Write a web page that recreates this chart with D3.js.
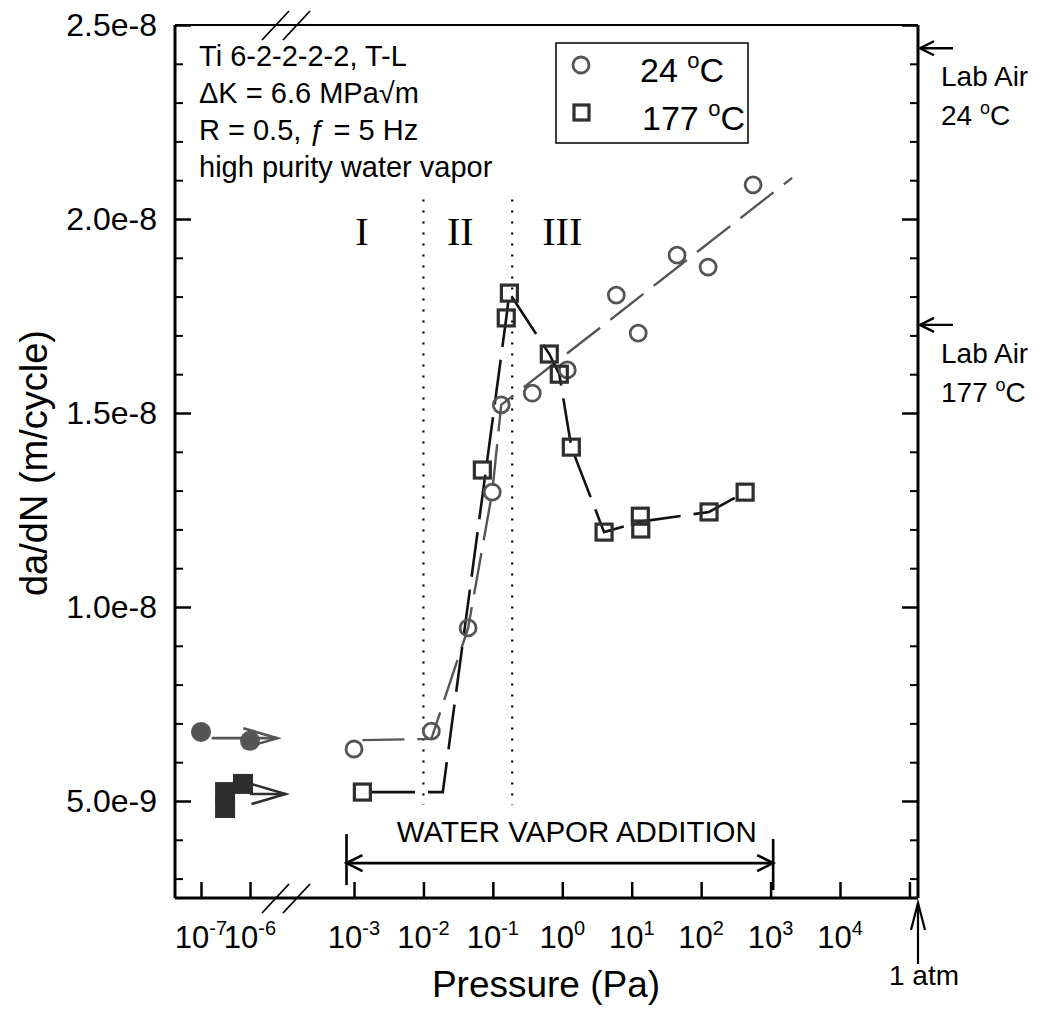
<!DOCTYPE html>
<html><head><meta charset="utf-8">
<script src="https://cdn.jsdelivr.net/npm/d3@7"></script>
<style>
body{margin:0;background:#fff}
svg{display:block}
text{fill:#000}
</style>
</head><body>
<svg id="c" width="1042" height="1023" font-family="Liberation Sans, Arial, Helvetica, sans-serif"></svg>
<script>
// ---------------- data ----------------
// 24 °C (open circles)
const circlePressure = [1.0e-3, 0.013, 0.044, 0.098, 0.132, 0.37, 1.18, 6.0, 12.4, 45, 126, 560];
const circleRate     = [6.34e-9, 6.8e-9, 9.46e-9, 1.296e-8, 1.521e-8, 1.551e-8, 1.611e-8, 1.804e-8, 1.706e-8, 1.907e-8, 1.876e-8, 2.088e-8];
// 177 °C (open squares)
const squarePressure = [1.32e-3, 0.0706, 0.156, 0.173, 0.65, 0.906, 1.35, 4.0, 13.3, 13.5, 130, 430];
const squareRate     = [5.23e-9, 1.353e-8, 1.745e-8, 1.809e-8, 1.652e-8, 1.60e-8, 1.412e-8, 1.193e-8, 1.234e-8, 1.201e-8, 1.245e-8, 1.296e-8];
// trend lines
const circleTrendPressure = [1.32e-3, 0.013, 0.044, 0.098, 0.132, 2040];
const circleTrendRate     = [6.57e-9, 6.6e-9, 9.46e-9, 1.296e-8, 1.521e-8, 2.106e-8];
const squareTrendPressure = [1.7e-3, 0.019, 0.156, 0.173, 0.65, 0.906, 1.35, 4.0, 13.3, 130, 430];
const squareTrendRate     = [5.23e-9, 5.23e-9, 1.745e-8, 1.809e-8, 1.652e-8, 1.60e-8, 1.412e-8, 1.193e-8, 1.22e-8, 1.245e-8, 1.296e-8];
// vacuum reference points (broken-axis segment)
const vacCirclePressure = [1e-7, 1e-6];
const vacCircleRate     = [6.78e-9, 6.55e-9];
const vacCircleArrow    = [1.25e-7, 3.6e-6, 6.62e-9];
const vacSquarePressure = [3.1e-7, 3.1e-7, 7.2e-7];
const vacSquareRate     = [5.23e-9, 4.82e-9, 5.44e-9];
const vacSquareArrow    = [1.0e-6, 5.3e-6, 5.18e-9];
// axes
const xTickExponents   = [-3, -2, -1, 0, 1, 2, 3, 4, 5];
const xLabelExponents  = [-3, -2, -1, 0, 1, 2, 3, 4];
const xBreakExponents  = [-7, -6];
const yMajorTicks  = [5e-9, 1e-8, 1.5e-8, 2e-8, 2.5e-8];
const yTickLabels  = ["5.0e-9", "1.0e-8", "1.5e-8", "2.0e-8", "2.5e-8"];
const yMinorTicks  = [3e-9,4e-9,6e-9,7e-9,8e-9,9e-9,1.1e-8,1.2e-8,1.3e-8,1.4e-8,1.6e-8,1.7e-8,1.8e-8,1.9e-8,2.1e-8,2.2e-8,2.3e-8,2.4e-8];
// annotations
const regionBounds   = [0.01, 0.19];
const regionSpan     = [4.9e-9, 2.05e-8];
const regionLabels   = ["I", "II", "III"];
const regionLabelAt  = [1.3e-3, 0.034, 1.0];
const regionLabelRate = 1.933e-8;
const labAirRates  = [2.44e-8, 1.727e-8];
const labAirTemps  = ["24", "177"];
const waterVaporRange = [7.8e-4, 1.09e3];
const waterVaporRate  = 3.4e-9;
const infoLines = ["Ti 6-2-2-2-2, T-L", "\u0394K = 6.6 MPa\u221Am", "R = 0.5, \u0192 = 5 Hz", "high purity water vapor"];
const legendTemps = ["24", "177"];

// ---------------- scales ----------------
const plotLeft = 175, plotRight = 918, plotTop = 25, plotBottom = 898;
const x  = d3.scaleLog().domain([1e-3, 1e4]).range([354, 840]);
const xb = d3.scaleLog().domain([1e-7, 1e-6]).range([201, 250]);
const y  = d3.scaleLinear().domain([2.5e-9, 2.5e-8]).range([plotBottom, plotTop]);

const svg = d3.select("#c");
const circleColor = "#555", squareColor = "#2e2e2e";

// ---------------- frame ----------------
svg.append("line").attr("x1", plotLeft).attr("x2", plotRight).attr("y1", plotTop).attr("y2", plotTop).attr("stroke", "#000").attr("stroke-width", 2);
svg.append("line").attr("x1", plotLeft).attr("x2", plotRight).attr("y1", plotBottom).attr("y2", plotBottom).attr("stroke", "#000").attr("stroke-width", 3);
svg.append("line").attr("x1", plotLeft).attr("x2", plotLeft).attr("y1", plotTop).attr("y2", plotBottom).attr("stroke", "#000").attr("stroke-width", 3);
svg.append("line").attr("x1", plotRight).attr("x2", plotRight).attr("y1", plotTop).attr("y2", plotBottom).attr("stroke", "#000").attr("stroke-width", 3);

function styleAxis(g, w) {
  g.select(".domain").remove();
  g.selectAll("line").attr("stroke", "#000").attr("stroke-width", w);
}
// y ticks left (inward) and right (inward)
svg.append("g").attr("transform", `translate(${plotLeft},0)`)
  .call(d3.axisRight(y).tickValues(yMajorTicks).tickSize(16).tickFormat(""))
  .call(g => styleAxis(g, 2.5));
svg.append("g").attr("transform", `translate(${plotLeft},0)`)
  .call(d3.axisRight(y).tickValues(yMinorTicks).tickSize(8).tickFormat(""))
  .call(g => styleAxis(g, 2));
svg.append("g").attr("transform", `translate(${plotRight},0)`)
  .call(d3.axisLeft(y).tickValues(yMajorTicks).tickSize(16).tickFormat(""))
  .call(g => styleAxis(g, 2.5));
svg.append("g").attr("transform", `translate(${plotRight},0)`)
  .call(d3.axisLeft(y).tickValues(yMinorTicks).tickSize(8).tickFormat(""))
  .call(g => styleAxis(g, 2));
// y tick labels
const yLab = svg.append("g").attr("transform", `translate(${plotLeft},0)`)
  .call(d3.axisLeft(y).tickValues(yMajorTicks).tickSize(0).tickPadding(18).tickFormat((d, i) => yTickLabels[i]));
yLab.select(".domain").remove();
yLab.attr("font-size", null).attr("font-family", null);
yLab.selectAll("text").attr("font-size", 32).attr("fill", "#000");

// x ticks (bottom, inward)
svg.append("g").attr("transform", `translate(0,${plotBottom})`)
  .call(d3.axisTop(x).tickValues(xTickExponents.map(e => Math.pow(10, e))).tickSize(16).tickFormat(""))
  .call(g => styleAxis(g, 2.5));
svg.append("g").attr("transform", `translate(0,${plotBottom})`)
  .call(d3.axisTop(xb).tickValues(xBreakExponents.map(e => Math.pow(10, e))).tickSize(16).tickFormat(""))
  .call(g => styleAxis(g, 2.5));

// x tick labels "10^n"
function powLabel(px, e) {
  const t = svg.append("text").attr("x", px).attr("y", 948).attr("text-anchor", "middle").attr("font-size", 31);
  t.append("tspan").text("10");
  t.append("tspan").attr("dy", -13).attr("font-size", 20).text(String(e));
}
xLabelExponents.forEach(e => powLabel(x(Math.pow(10, e)), e));
xBreakExponents.forEach(e => powLabel(xb(Math.pow(10, e)), e));

// axis break marks
[plotTop, plotBottom].forEach(yy => {
  [0, 21].forEach(off => {
    svg.append("line").attr("x1", 262 + off).attr("y1", yy + 15).attr("x2", 289 + off).attr("y2", yy - 14)
      .attr("stroke", "#000").attr("stroke-width", 1.8);
  });
});

// axis titles
svg.append("text").attr("x", 546).attr("y", 997).attr("text-anchor", "middle").attr("font-size", 37).text("Pressure (Pa)");
svg.append("text").attr("transform", "translate(47,463) rotate(-90)").attr("text-anchor", "middle").attr("font-size", 38).text("da/dN (m/cycle)");

// ---------------- region dividers ----------------
regionBounds.forEach(p => {
  svg.append("line").attr("x1", x(p)).attr("x2", x(p)).attr("y1", y(regionSpan[1])).attr("y2", y(regionSpan[0]))
    .attr("stroke", "#000").attr("stroke-width", 2.2).attr("stroke-dasharray", "2,9");
});
regionLabels.forEach((l, i) => {
  svg.append("text").attr("x", x(regionLabelAt[i])).attr("y", y(regionLabelRate)).attr("text-anchor", "middle")
    .attr("font-family", "Liberation Serif, Times New Roman, serif").attr("font-size", 40).text(l);
});

// ---------------- trend lines ----------------
const line = d3.line().x(d => x(d[0])).y(d => y(d[1]));
svg.append("path").datum(circleTrendPressure.map((p, i) => [p, circleTrendRate[i]]))
  .attr("d", line).attr("fill", "none").attr("stroke", "#555").attr("stroke-width", 2.4).attr("stroke-dasharray", "42,13");
svg.append("path").datum(squareTrendPressure.map((p, i) => [p, squareTrendRate[i]]))
  .attr("d", line).attr("fill", "none").attr("stroke", "#111").attr("stroke-width", 2.6).attr("stroke-dasharray", "45,13");

// ---------------- markers ----------------
svg.append("g").selectAll("circle").data(circlePressure).join("circle")
  .attr("cx", d => x(d)).attr("cy", (d, i) => y(circleRate[i])).attr("r", 8)
  .attr("fill", "none").attr("stroke", circleColor).attr("stroke-width", 2.8);
svg.append("g").selectAll("rect").data(squarePressure).join("rect")
  .attr("x", d => x(d) - 8).attr("y", (d, i) => y(squareRate[i]) - 8).attr("width", 16).attr("height", 16)
  .attr("fill", "none").attr("stroke", squareColor).attr("stroke-width", 3.2);

// vacuum points
function openArrow(x1, x2, yy, color, w) {
  const g = svg.append("g").attr("stroke", color).attr("stroke-width", w).attr("fill", "none");
  g.append("line").attr("x1", x1).attr("x2", x2).attr("y1", yy).attr("y2", yy);
  g.append("path").attr("d", `M${x2 - 34},${yy - 10} L${x2},${yy} L${x2 - 34},${yy + 10}`);
}
openArrow(xb(vacCircleArrow[0]) + 6, xb(vacCircleArrow[1]), y(vacCircleArrow[2]), "#555", 2.6);
svg.append("g").selectAll("circle").data(vacCirclePressure).join("circle")
  .attr("cx", d => xb(d)).attr("cy", (d, i) => y(vacCircleRate[i])).attr("r", 10).attr("fill", "#555");
openArrow(xb(vacSquareArrow[0]), xb(vacSquareArrow[1]), y(vacSquareArrow[2]), "#2e2e2e", 2.6);
svg.append("g").selectAll("rect").data(vacSquarePressure).join("rect")
  .attr("x", d => xb(d) - 10).attr("y", (d, i) => y(vacSquareRate[i]) - 10).attr("width", 20).attr("height", 20)
  .attr("fill", "#2e2e2e");

// ---------------- water vapor addition ----------------
{
  const x1 = x(waterVaporRange[0]), x2 = x(waterVaporRange[1]), yy = y(waterVaporRate);
  const g = svg.append("g").attr("stroke", "#000").attr("stroke-width", 2.6).attr("fill", "none");
  g.append("line").attr("x1", x1).attr("x2", x2).attr("y1", yy).attr("y2", yy);
  g.append("line").attr("x1", x1).attr("x2", x1).attr("y1", yy - 29).attr("y2", yy + 22);
  g.append("line").attr("x1", x2).attr("x2", x2).attr("y1", yy - 24).attr("y2", yy + 27);
  g.append("path").attr("d", `M${x1 + 16},${yy - 8} L${x1},${yy} L${x1 + 16},${yy + 8}`);
  g.append("path").attr("d", `M${x2 - 16},${yy - 8} L${x2},${yy} L${x2 - 16},${yy + 8}`);
  svg.append("text").attr("x", (x1 + x2) / 2 + 17).attr("y", yy - 21).attr("text-anchor", "middle").attr("font-size", 29.5).text("WATER VAPOR ADDITION");
}

// ---------------- lab air arrows ----------------
labAirRates.forEach((r, i) => {
  const yy = y(r);
  const g = svg.append("g").attr("stroke", "#000").attr("stroke-width", 2.4).attr("fill", "none");
  g.append("line").attr("x1", plotRight + 2).attr("x2", plotRight + 35).attr("y1", yy).attr("y2", yy);
  g.append("path").attr("d", `M${plotRight + 16},${yy - 7} L${plotRight + 2},${yy} L${plotRight + 16},${yy + 7}`);
  svg.append("text").attr("x", 941).attr("y", yy + 38).attr("font-size", 28).text("Lab Air");
  const t = svg.append("text").attr("x", 941).attr("y", yy + 77).attr("font-size", 28);
  t.append("tspan").text(labAirTemps[i] + " ");
  t.append("tspan").attr("dy", -11).attr("font-size", 18).text("o");
  t.append("tspan").attr("dy", 11).text("C");
});

// 1 atm arrow
{
  const xa = plotRight, g = svg.append("g").attr("stroke", "#000").attr("stroke-width", 2.2).attr("fill", "none");
  g.append("line").attr("x1", xa).attr("x2", xa).attr("y1", 964).attr("y2", 903);
  g.append("path").attr("d", `M${xa - 7},${930} L${xa},${903} L${xa + 7},${930}`);
  svg.append("text").attr("x", 924).attr("y", 985).attr("text-anchor", "middle").attr("font-size", 28).text("1 atm");
}

// ---------------- info text ----------------
infoLines.forEach((s, i) => {
  svg.append("text").attr("x", 199).attr("y", 66 + i * 37).attr("font-size", 29).text(s);
});

// ---------------- legend ----------------
{
  svg.append("rect").attr("x", 556).attr("y", 43).attr("width", 192).attr("height", 100)
    .attr("fill", "#fff").attr("stroke", "#000").attr("stroke-width", 1.5);
  svg.append("circle").attr("cx", 581).attr("cy", 65).attr("r", 8).attr("fill", "none").attr("stroke", circleColor).attr("stroke-width", 2.8);
  svg.append("rect").attr("x", 574).attr("y", 105).attr("width", 15).attr("height", 15).attr("fill", "none").attr("stroke", squareColor).attr("stroke-width", 3.2);
  legendTemps.forEach((tmp, i) => {
    const t = svg.append("text").attr("x", i === 0 ? 640 : 642).attr("y", 82 + i * 48).attr("font-size", 34);
    t.append("tspan").text(tmp + " ");
    t.append("tspan").attr("dy", -14).attr("font-size", 22).text("o");
    t.append("tspan").attr("dy", 14).text("C");
  });
}
</script>
</body></html>
